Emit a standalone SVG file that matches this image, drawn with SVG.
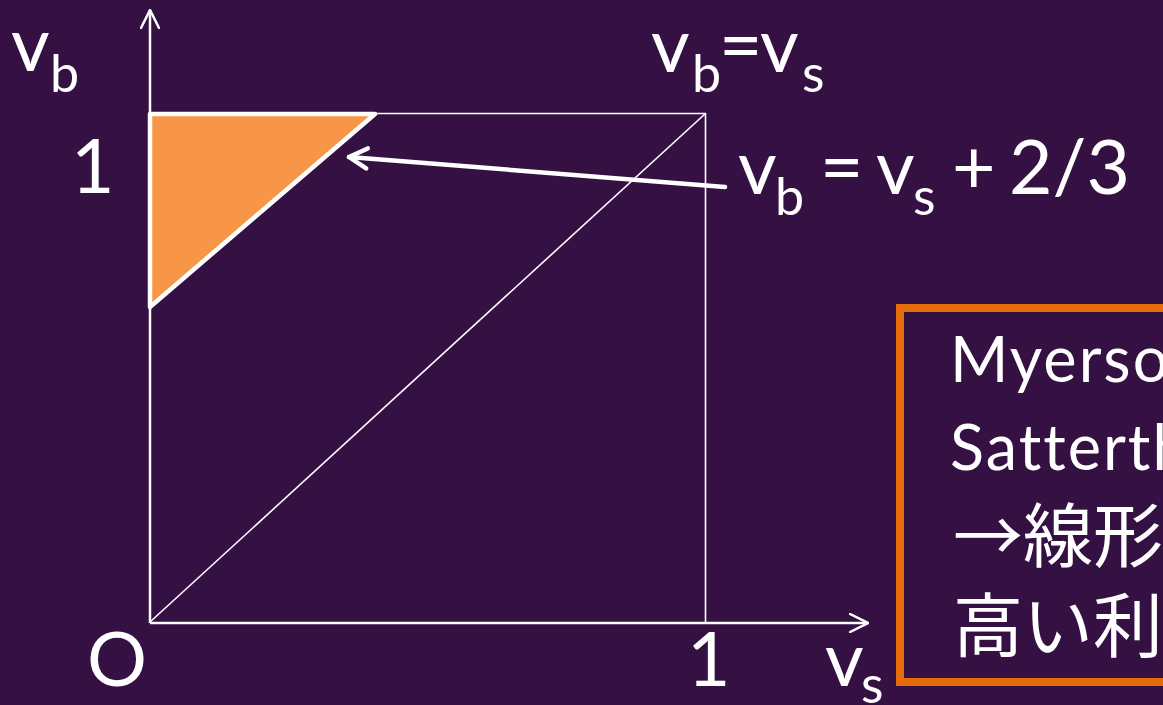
<svg xmlns="http://www.w3.org/2000/svg" width="1163" height="705" viewBox="0 0 1163 705">
<style>
.t{font-family:Lato,"Noto Sans","Noto Sans CJK JP",sans-serif;fill:#ffffff;font-size:75px}
.s{font-size:52px}
.b{font-family:Lato,"Noto Sans","Noto Sans CJK JP",sans-serif;fill:#ffffff;font-size:63px;letter-spacing:2px}
.j{font-family:"Noto Sans CJK JP",sans-serif;fill:#ffffff;font-size:70px}
.ax{stroke:#ffffff;stroke-width:2.5;fill:none}
.thin{stroke:#ffffff;stroke-width:1.6;fill:none}
</style>
<defs>
<marker id="head" viewBox="0 0 20 20" refX="19" refY="10" markerWidth="20" markerHeight="20" markerUnits="userSpaceOnUse" orient="auto">
<path d="M1,1 L19,10 L1,19" fill="none" stroke="#ffffff" stroke-width="2.5" stroke-linecap="round"/>
</marker>
<marker id="head2" viewBox="0 0 26 26" refX="23" refY="13" markerWidth="26" markerHeight="26" markerUnits="userSpaceOnUse" orient="auto">
<path d="M5,3 L23,13 L5,23" fill="none" stroke="#ffffff" stroke-width="4.5" stroke-linecap="round" stroke-linejoin="round"/>
</marker>
</defs>
<rect width="1163" height="705" fill="#341043"/>
<g id="connectors">
<line class="ax" x1="150" y1="623" x2="150" y2="10" marker-end="url(#head)"/>
<line class="ax" x1="150" y1="623" x2="868" y2="623" marker-end="url(#head)"/>
<polyline class="thin" points="150,113.5 705.5,113.5 705.5,623"/>
<line class="thin" x1="150" y1="622" x2="705.5" y2="113.5"/>
<line x1="725" y1="187" x2="349" y2="157" stroke="#ffffff" stroke-width="4.5" stroke-linecap="round" marker-end="url(#head2)"/>
</g>
<g id="region">
<polygon points="150,114 375,114 150,307" fill="#F79646" stroke="#ffffff" stroke-width="4.5" stroke-linejoin="round"/>
</g>
<g id="label-vb">
<text class="t" x="11" y="71">v</text><text class="t s" x="50" y="92">b</text>
</g>
<g id="label-1y"><text class="t" x="71" y="193">1</text></g>
<g id="label-diag">
<text class="t" x="651" y="72">v</text><text class="t s" x="692" y="92">b</text><text class="t" x="719" y="72">=</text><text class="t" x="760" y="72">v</text><text class="t s" x="802" y="92">s</text>
</g>
<g id="label-line">
<text class="t" x="738" y="194">v</text><text class="t s" x="775" y="215">b</text><text class="t" x="820" y="194">=</text><text class="t" x="876" y="194">v</text><text class="t s" x="913" y="215">s</text><text class="t" x="952" y="194">+</text><text class="t" x="1009" y="194">2/3</text>
</g>
<g id="label-origin"><text class="t" x="87" y="686">O</text></g>
<g id="label-1x"><text class="t" x="687" y="686">1</text></g>
<g id="label-vs">
<text class="t" x="825" y="686">v</text><text class="t s" x="861" y="703">s</text>
</g>
<g id="note">
<rect x="900" y="308" width="300" height="374" fill="none" stroke="#E46C0A" stroke-width="8"/>
<text class="b" x="950" y="382">Myerson</text>
<text class="b" x="950" y="470">Satterthwaite</text>
<text class="j" x="953" y="562">→線形</text>
<text class="j" x="953" y="652">高い利</text>
</g>
</svg>
